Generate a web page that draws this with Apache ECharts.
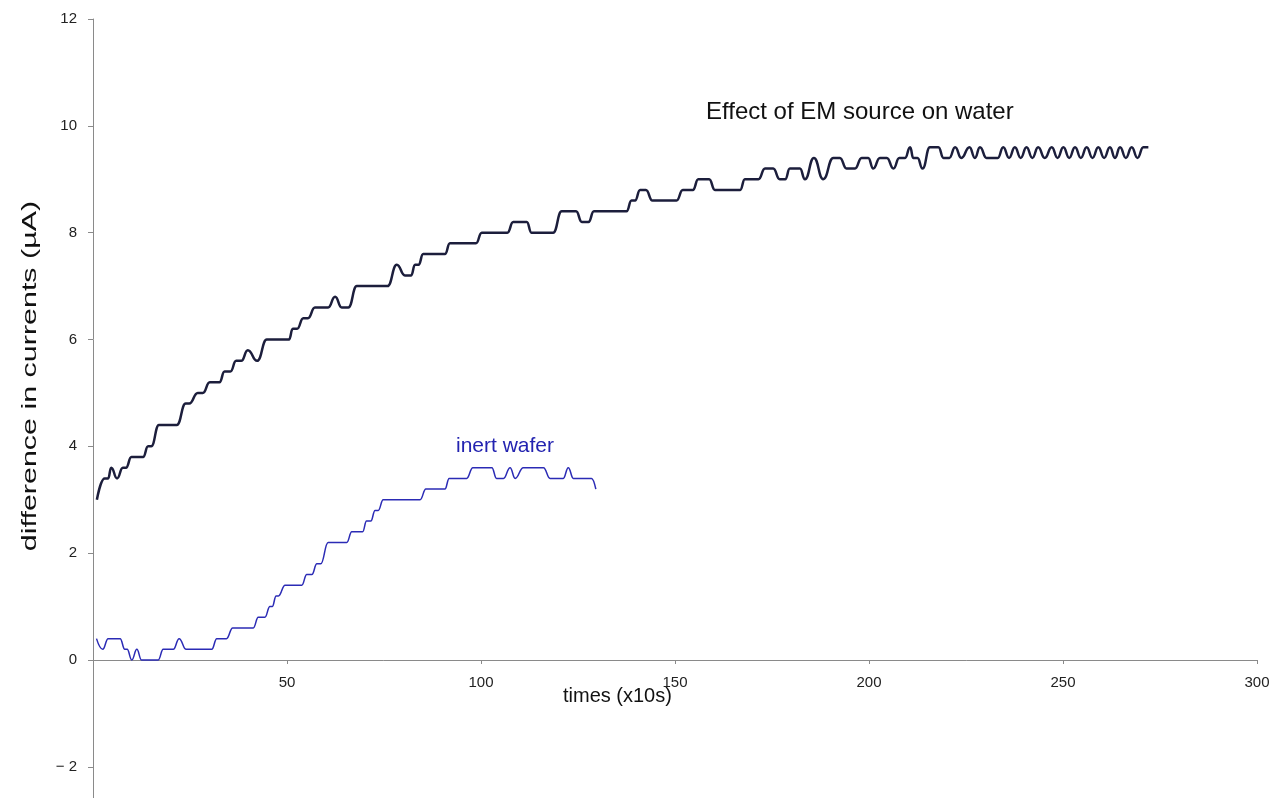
<!DOCTYPE html>
<html lang="en">
<head>
    <meta charset="UTF-8">
    <title>Effect of EM source on water</title>
    <style>
        html, body { margin: 0; padding: 0; background: #fff; }
        #main { width: 1274px; height: 798px; }
    </style>
</head>
<body>
<div id="main"></div>
<script src="https://cdn.jsdelivr.net/npm/echarts@6/dist/echarts.min.js"></script>
<script>
    // EM source on water: step vertices
    var emTimes = [1, 3, 3.9, 4.7, 6.2, 7.7, 8.5, 9.9, 12.9, 14.2, 15, 17, 21.6, 23.9, 24.8, 27, 28.3, 30.1, 32.6, 33.9,
        35.4, 36.9, 38.2, 39.9, 42.3, 44.8, 50.5, 51.5, 52.6, 54.2, 55.4, 57.2, 60.6, 62.4, 64.1, 65.8, 68, 75.9, 78.3, 80.4,
        82, 83, 83.9, 85.1, 90.7, 92, 98.7, 100.2, 106.8, 108.3, 111.8, 113, 118.6, 120.8, 124.5, 126, 127.7, 129.1, 137.5, 138.8,
        139.7, 141, 142.5, 144.2, 150.4, 152, 154.6, 156, 158.8, 160.3, 166.8, 168, 171.5, 173.2, 175.3, 177, 178.4, 179.6, 182.2, 183.5,
        185.8, 188.2, 190.8, 192.5, 194.2, 196.4, 198.1, 199.8, 201.1, 202.8, 204.6, 206.3, 207.8, 209.3, 210.6, 211.4, 212.5, 213.8, 215.7, 217.9,
        219.2, 220.7, 222.2, 223.8, 225.9, 227.3, 228.6, 230.3, 233.2, 234.6, 236.1, 237.6, 239.1, 240.6, 242.1, 243.6, 245.3, 247.1, 248.6, 250.1,
        251.6, 253.1, 254.6, 256.1, 257.6, 259.1, 260.6, 262.1, 263.4, 264.7, 266.2, 267.7, 269.2, 270.7, 272];
    var emValues = [3.0, 3.4, 3.4, 3.6, 3.4, 3.6, 3.6, 3.8, 3.8, 4.0, 4.0, 4.4, 4.4, 4.8, 4.8, 5.0, 5.0, 5.2, 5.2, 5.4,
        5.4, 5.6, 5.6, 5.8, 5.6, 6.0, 6.0, 6.2, 6.2, 6.4, 6.4, 6.6, 6.6, 6.8, 6.6, 6.6, 7.0, 7.0, 7.4, 7.2,
        7.2, 7.4, 7.4, 7.6, 7.6, 7.8, 7.8, 8.0, 8.0, 8.2, 8.2, 8.0, 8.0, 8.4, 8.4, 8.2, 8.2, 8.4, 8.4, 8.6,
        8.6, 8.8, 8.8, 8.6, 8.6, 8.8, 8.8, 9.0, 9.0, 8.8, 8.8, 9.0, 9.0, 9.2, 9.2, 9.0, 9.0, 9.2, 9.2, 9.0,
        9.4, 9.0, 9.4, 9.4, 9.2, 9.2, 9.4, 9.4, 9.2, 9.4, 9.4, 9.2, 9.4, 9.4, 9.6, 9.4, 9.4, 9.2, 9.6, 9.6,
        9.4, 9.4, 9.6, 9.4, 9.6, 9.4, 9.6, 9.4, 9.4, 9.6, 9.4, 9.6, 9.4, 9.6, 9.4, 9.6, 9.4, 9.6, 9.4, 9.6,
        9.4, 9.6, 9.4, 9.6, 9.4, 9.6, 9.4, 9.6, 9.4, 9.6, 9.4, 9.6, 9.4, 9.6, 9.6];

    // inert wafer
    var wafTimes = [0.9, 2.5, 3.9, 7, 8.2, 8.8, 10, 11.3, 12.5, 16.8, 18.1, 20.7, 22.2, 24, 30.6, 31.9, 34.4, 36, 41.3, 42.6,
        44.3, 45.6, 46.2, 47.2, 47.8, 49.5, 53.8, 55.1, 56.4, 57.7, 58.7, 60.6, 65.4, 66.7, 69.5, 70.5, 71.6, 72.7, 73.5, 74.8,
        84.3, 85.8, 90.7, 91.8, 96.3, 97.9, 102.8, 104, 105.8, 107.5, 108.8, 110.9, 116.1, 117.8, 121.2, 122.5, 123.8, 128.5, 129.6];
    var wafValues = [0.4, 0.2, 0.4, 0.4, 0.2, 0.2, 0.0, 0.2, 0.0, 0.0, 0.2, 0.2, 0.4, 0.2, 0.2, 0.4, 0.4, 0.6, 0.6, 0.8,
        0.8, 1.0, 1.0, 1.2, 1.2, 1.4, 1.4, 1.6, 1.6, 1.8, 1.8, 2.2, 2.2, 2.4, 2.4, 2.6, 2.6, 2.8, 2.8, 3.0,
        3.0, 3.2, 3.2, 3.4, 3.4, 3.6, 3.6, 3.4, 3.4, 3.6, 3.4, 3.6, 3.6, 3.4, 3.4, 3.6, 3.4, 3.4, 3.2];

    var xTicks = [0, 300, 50];
    var yTicksUpper = [0, 12, 2];
    // part of the y axis below zero, drawn downwards (depth below 0)
    var yTicksLower = [0, 2.6, 2];

    function zip(xs, ys) {
        return xs.map(function (x, i) { return [x, ys[i]]; });
    }

    var font = '"Liberation Sans", Arial, Helvetica, sans-serif';
    var axisGrey = '#8a8a8a';
    var chart = echarts.init(document.getElementById('main'));

    chart.setOption({
        animation: false,
        backgroundColor: '#fff',
        grid: [
            { left: 93, right: 17, top: 19, height: 641, outerBoundsMode: 'none' },
            { left: 93, right: 17, top: 660, height: 139, outerBoundsMode: 'none' }
        ],
        xAxis: [
            {
                type: 'value', gridIndex: 0,
                min: xTicks[0], max: xTicks[1], interval: xTicks[2],
                axisLine: { onZero: false, lineStyle: { color: axisGrey, width: 1 } },
                axisTick: { show: true, length: 4, lineStyle: { color: axisGrey } },
                splitLine: { show: false },
                axisLabel: {
                    margin: 15, color: '#222', fontSize: 15, fontFamily: font,
                    formatter: function (v) { return v === 0 ? '' : v; }
                }
            },
            {
                type: 'value', gridIndex: 1, position: 'top',
                min: xTicks[0], max: xTicks[1],
                axisLine: { show: false }, axisTick: { show: false },
                axisLabel: { show: false }, splitLine: { show: false }
            }
        ],
        yAxis: [
            {
                type: 'value', gridIndex: 0,
                min: yTicksUpper[0], max: yTicksUpper[1], interval: yTicksUpper[2],
                axisLine: { show: true, onZero: false, lineStyle: { color: axisGrey, width: 1 } },
                axisTick: { show: true, length: 5, lineStyle: { color: axisGrey } },
                splitLine: { show: false },
                axisLabel: { margin: 16, color: '#222', fontSize: 15, fontFamily: font }
            },
            {
                type: 'value', gridIndex: 1, inverse: true,
                min: yTicksLower[0], max: yTicksLower[1], interval: yTicksLower[2],
                axisLine: { show: true, onZero: false, lineStyle: { color: axisGrey, width: 1 } },
                axisTick: { show: true, length: 5, lineStyle: { color: axisGrey } },
                splitLine: { show: false },
                axisLabel: {
                    margin: 16, color: '#222', fontSize: 15, fontFamily: font,
                    formatter: function (v) { return v === 2 ? '\u2212 2' : ''; }
                }
            }
        ],
        graphic: [
            { type: 'text', left: 706, top: 100, style: { text: 'Effect of EM source on water', fontSize: 24, fontFamily: font, fill: '#111' } },
            { type: 'text', left: 456, top: 436, style: { text: 'inert wafer', fontSize: 21, fontFamily: font, fill: '#2323b0' } },
            { type: 'text', left: 563, top: 686, style: { text: 'times (x10s)', fontSize: 20, fontFamily: font, fill: '#111' } },
            {
                type: 'text', x: 30, y: 376, rotation: Math.PI / 2, scaleX: 1.45,
                style: {
                    text: 'difference in currents (\u00b5A)', fontSize: 21, fontFamily: font, fill: '#111',
                    align: 'center', verticalAlign: 'middle'
                }
            }
        ],
        series: [
            {
                name: 'Effect of EM source on water',
                type: 'line', xAxisIndex: 0, yAxisIndex: 0,
                data: zip(emTimes, emValues),
                showSymbol: false,
                smooth: 0.5,
                smoothMonotone: 'x',
                clip: false,
                lineStyle: { color: '#1c1e3c', width: 2.5 }
            },
            {
                name: 'inert wafer',
                type: 'line', xAxisIndex: 0, yAxisIndex: 0,
                data: zip(wafTimes, wafValues),
                showSymbol: false,
                smooth: 0.45,
                smoothMonotone: 'x',
                clip: false,
                lineStyle: { color: '#2b2bb5', width: 1.5 }
            }
        ]
    });
</script>
</body>
</html>
